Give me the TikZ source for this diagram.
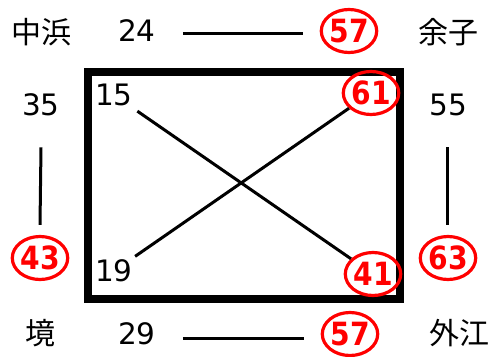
\documentclass[tikz,border=0pt]{standalone}
\usepackage{fontspec}
\setmainfont{DejaVu Sans}
\newfontfamily\jp{Noto Sans CJK JP}
\usetikzlibrary{shapes.geometric}
\begin{document}
\begin{tikzpicture}[x=1pt,y=-1pt,
 num/.style={font=\fontsize{29.5}{30}\selectfont, inner sep=1pt},
 place/.style={font=\jp\fontsize{30}{30}\selectfont, inner sep=1pt},
 circ/.style={ellipse, draw=red, line width=3.2pt, text=red, minimum width=55pt, minimum height=43pt, inner sep=0pt, font=\bfseries\fontsize{32}{32}\selectfont},
 conn/.style={line width=3pt},
 frame/.style={line width=8pt}]
\useasboundingbox (0,0) rectangle (492,356);
\draw[frame] (88,72) rectangle (400,299);
\node[place] (nakahama) at (41,32) {中浜};
\node[num] (n24) at (137,31) {24};
\node[circ] (c57a) at (349,31) {\scalebox{0.88}[1]{57}};
\node[place] (yoko) at (448,32) {余子};
\node[num] (n35) at (41,105) {35};
\node[circ] (c43) at (40,258) {\scalebox{0.88}[1]{43}};
\node[num] (n55) at (448,105) {55};
\node[circ] (c63) at (448,258) {\scalebox{0.88}[1]{63}};
\node[place] (sakai) at (40,333) {境};
\node[num] (n29) at (137,334) {29};
\node[circ] (c57b) at (350,334) {\scalebox{0.88}[1]{57}};
\node[place] (sotoe) at (459,333) {外江};
\node[num] (n15) at (114,95) {15};
\node[num] (n19) at (114,271) {19};
\node[circ] (c61) at (371,93) {\scalebox{0.88}[1]{61}};
\node[circ] (c41) at (373,274) {\scalebox{0.88}[1]{41}};
\draw[conn] ([xshift=26pt,yshift=-2pt]n24.east) -- ([xshift=-17pt,yshift=-2pt]c57a.west);
\draw[conn] ([xshift=26pt,yshift=-4pt]n29.east) -- ([xshift=-17pt,yshift=-4pt]c57b.west);
\draw[conn] ([yshift=-30pt]n35.south) -- ([yshift=10pt]c43.north);
\draw[conn] ([xshift=-1pt,yshift=-30pt]n55.south) -- ([xshift=-1pt,yshift=10pt]c63.north);
\draw[conn, shorten <=7pt] (n15) -- (c41);
\draw[conn, shorten >=4pt] (c61) -- (n19);
\end{tikzpicture}
\end{document}
